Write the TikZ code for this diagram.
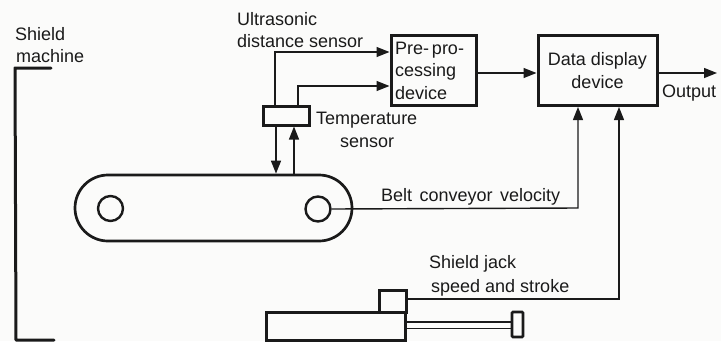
\documentclass[tikz,border=0pt]{standalone}
\usepackage{fontspec}
\setmainfont{Liberation Sans}
\usetikzlibrary{arrows.meta,calc}
\definecolor{ink}{HTML}{1A1A1A}
\definecolor{paper}{HTML}{FBFBFA}
\tikzset{
  every node/.style={text=ink},
  lab/.style={anchor=base west,inner sep=0pt,font=\fontsize{18}{22.5}\selectfont},
  thickbox/.style={draw=ink,line width=3pt,inner sep=0pt,font=\fontsize{18}{22.5}\selectfont},
  wheel/.style={circle,draw=ink,line width=2.4pt,inner sep=0pt,minimum size=25pt},
  conn/.style={draw=ink,line width=1.4pt},
  arr/.style={conn,-{Triangle[length=13pt,width=10pt]}},
  heavy/.style={draw=ink,line width=3pt,line cap=round,line join=round}
}
\begin{document}
\begin{tikzpicture}[x=1pt,y=-1pt]
\useasboundingbox (0,0) rectangle (721,341);
\fill[paper] (0,0) rectangle (721,341);
% shield machine bracket
\draw[heavy] (51,68) -- (15,68) -- (16,340) -- (54,340);
% boxes
\node[thickbox,minimum width=85pt,minimum height=70pt,align=left,text width=77pt] (pre) at (433.5,70.5) {Pre{-}\,pro-\\cessing\\device};
\node[thickbox,minimum width=119pt,minimum height=70pt,align=center] (data) at (597.5,70.5) {Data display\\device};
\node[thickbox,minimum width=46pt,minimum height=19pt] (sensor) at (286,115.5) {};
\node[draw=ink,line width=2.7pt,rounded corners=33pt,minimum width=277pt,minimum height=66pt,inner sep=0pt] (belt) at (213.5,208) {};
\node[wheel] (wl) at (110.5,208.5) {};
\node[wheel] (wr) at (318,209) {};
% jack
\node[thickbox,minimum width=139pt,minimum height=28pt] (jack) at (336,326) {};
\node[thickbox,minimum width=27pt,minimum height=22pt] (jacktop) at (392.5,301) {};
\node[draw=ink,line width=2.7pt,minimum width=11pt,minimum height=25pt,inner sep=0pt,rounded corners=1pt] (cap) at (517.5,324.5) {};
% piston rod
\coordinate (r1) at (405,322); \coordinate (r2) at (405,328.5);
\draw[conn] (r1) -- (r1 -| cap.west);
\draw[conn] (r2) -- (r2 -| cap.west);
% sensor connectors
\coordinate (c1) at (275,52); \coordinate (c2) at (298,86);
\coordinate (c3) at (276,170); \coordinate (c4) at (294,175);
\draw[arr] (c1 |- sensor.north) -- (c1) -- (c1 -| pre.west);
\draw[arr] (c2 |- sensor.north) -- (c2) -- (c2 -| pre.west);
\draw[arr] (c3 |- sensor.south) -- (c3 |- belt.north);
\draw[arr] (c4 |- belt.north) -- (c4 |- sensor.south);
% block connectors
\coordinate (m) at (500,73);
\draw[arr] (m -| pre.east) -- (m -| data.west);
\coordinate (out) at (717,73);
\draw[arr] (out -| data.east) -- (out);
\coordinate (c5) at (578,208); \coordinate (c6) at (619,299);
\draw[arr] (wr.east) -- (c5) -- (c5 |- data.south);
\draw[arr] (c6 -| jacktop.east) -- (c6) -- (c6 |- data.south);
% labels
\node[lab] (t1) at (237,25) {Ultrasonic};
\node[lab] (t2) at (237,47) {distance sensor};
\node[lab] (t3) at (15,40) {Shield};
\node[lab] (t4) at (16,62) {machine};
\node[lab] (t5) at (316,124) {Temperature};
\node[lab] (t6) at (340,147) {sensor};
\node[lab] (t7) at (662,97) {Output};
\node[lab] (t8) at (381,201) {Belt\hspace{2.5pt} conveyor\hspace{2.5pt} velocity};
\node[lab] (t9) at (429,268) {Shield jack};
\node[lab] (t10) at (431,292) {speed and stroke};
\end{tikzpicture}
\end{document}
